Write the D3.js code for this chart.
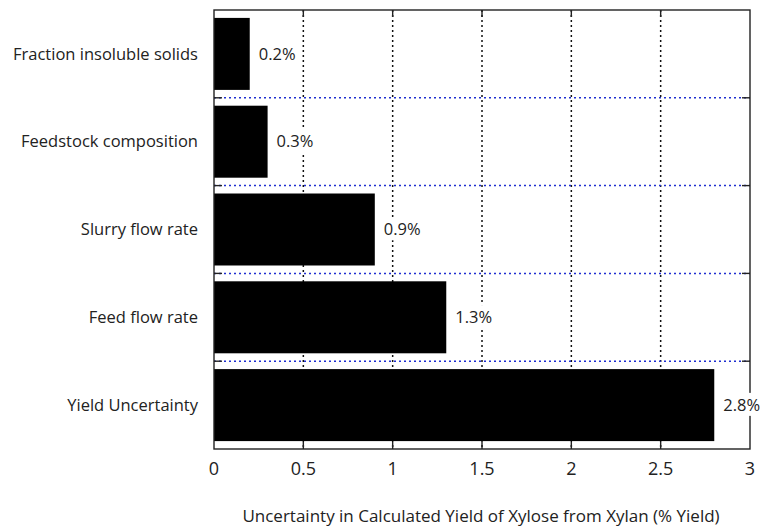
<!DOCTYPE html>
<html><head><meta charset="utf-8">
<script src="https://cdn.jsdelivr.net/npm/d3@7/dist/d3.min.js"></script>
<style>body{margin:0;background:#fff}svg{display:block}text{font-family:"Open Sans","Noto Sans",sans-serif;fill:#222}</style>
</head><body><svg id="c" width="766" height="526"></svg>
<script>
const categories = ["Fraction insoluble solids","Feedstock composition","Slurry flow rate","Feed flow rate","Yield Uncertainty"];
const values = [0.2, 0.3, 0.9, 1.3, 2.8];
const valueLabels = ["0.2%","0.3%","0.9%","1.3%","2.8%"];
const xTicks = [0, 0.5, 1, 1.5, 2, 2.5, 3];
const xTickLabels = ["0","0.5","1","1.5","2","2.5","3"];
const xTitle = "Uncertainty in Calculated Yield of Xylose from Xylan (% Yield)";

const svg = d3.select("#c");
const m = {l:214, t:10, r:750, b:449};
const x = d3.scaleLinear().domain([0,3]).range([m.l, m.r]);
const y = d3.scaleBand().domain(categories).range([m.t, m.b]).paddingInner(0.18).paddingOuter(0.09);
const bounds = d3.range(1, categories.length).map(i => m.t + (m.b - m.t) * i / categories.length);

// vertical grid
svg.append("g").selectAll("line").data(xTicks.slice(1,-1)).join("line")
  .attr("x1", d=>x(d)).attr("x2", d=>x(d)).attr("y1", m.t).attr("y2", m.b)
  .attr("stroke","#111").attr("stroke-width",1.5).attr("stroke-dasharray","2,3");
// horizontal grid (blue)
svg.append("g").selectAll("line").data(bounds).join("line")
  .attr("x1", m.l).attr("x2", m.r).attr("y1", d=>d).attr("y2", d=>d)
  .attr("stroke","#1f2fd0").attr("stroke-width",1.5).attr("stroke-dasharray","2,3");

// bars
svg.append("g").selectAll("rect").data(values).join("rect")
  .attr("x", x(0)).attr("y", (d,i)=>y(categories[i]))
  .attr("width", d=>x(d)-x(0)).attr("height", y.bandwidth()).attr("fill","#000");

// frame
svg.append("rect").attr("x",m.l).attr("y",m.t).attr("width",m.r-m.l).attr("height",m.b-m.t)
  .attr("fill","none").attr("stroke","#222").attr("stroke-width",1.4);

// ticks
const tk = svg.append("g").attr("stroke","#222").attr("stroke-width",1.4);
xTicks.slice(1,-1).forEach(d=>{
  tk.append("line").attr("x1",x(d)).attr("x2",x(d)).attr("y1",m.b).attr("y2",m.b-7);
  tk.append("line").attr("x1",x(d)).attr("x2",x(d)).attr("y1",m.t).attr("y2",m.t+7);
});
bounds.forEach(d=>{
  tk.append("line").attr("x1",m.l).attr("x2",m.l+8).attr("y1",d).attr("y2",d);
  tk.append("line").attr("x1",m.r).attr("x2",m.r-8).attr("y1",d).attr("y2",d);
});

// value labels with white background
const lg = svg.append("g");
values.forEach((d,i)=>{
  const cy = y(categories[i]) + y.bandwidth()/2;
  const t = lg.append("text").attr("x", x(d)+9).attr("y", cy).attr("dy","0.35em")
    .attr("font-size",16.5).text(valueLabels[i]);
  const bb = t.node().getBBox();
  lg.insert("rect", "text").attr("x",bb.x-2).attr("y",bb.y).attr("width",bb.width+4).attr("height",bb.height).attr("fill","#fff");
});

// category labels
svg.append("g").selectAll("text").data(categories).join("text")
  .attr("x", 198).attr("y", d=>y(d)+y.bandwidth()/2).attr("dy","0.35em")
  .attr("text-anchor","end").attr("font-size",16.5).text(d=>d);

// x tick labels
svg.append("g").selectAll("text").data(xTicks).join("text")
  .attr("x", d=>x(d)).attr("y", 475).attr("text-anchor","middle").attr("font-size",18)
  .text((d,i)=>xTickLabels[i]);

svg.append("text").attr("x", 481).attr("y", 522).attr("text-anchor","middle").attr("font-size",17).text(xTitle);
</script></body></html>
